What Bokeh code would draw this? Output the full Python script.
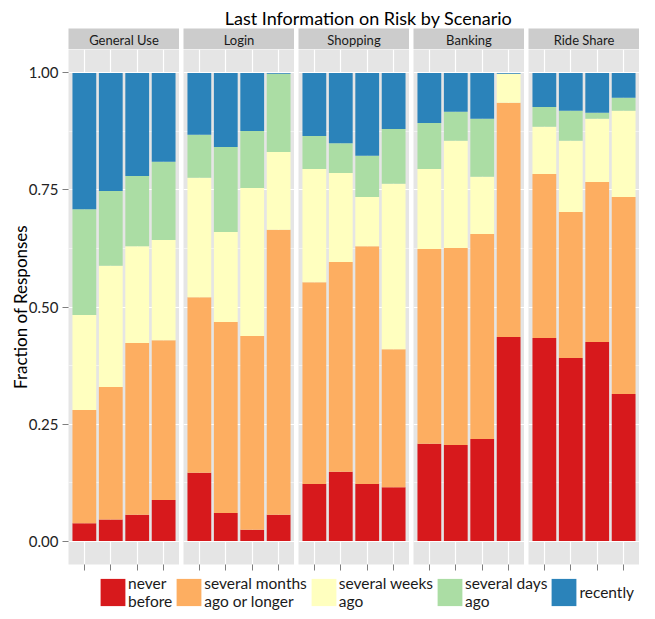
from bokeh.plotting import figure
from bokeh.models import (ColumnDataSource, FactorRange, Range1d, FixedTicker,
                          NumeralTickFormatter, Legend, LegendItem, Label)
from bokeh.layouts import row, column
from bokeh.core.properties import value
from bokeh.embed import file_html
from bokeh.resources import INLINE

# ---------------- data ----------------
chart_title = "Last Information on Risk by Scenario"
y_label = "Fraction of Responses"
scenarios = ["General Use", "Login", "Shopping", "Banking", "Ride Share"]
groups = ["1", "2", "3", "4"]
categories = ["never before", "several months ago or longer", "several weeks ago",
              "several days ago", "recently"]
legend_labels = ["never\nbefore", "several months\nago or longer", "several weeks\nago",
                 "several days\nago", "recently"]
colors = ["#D7191C", "#FDAE61", "#FFFFBF", "#ABDDA4", "#2B83BA"]
y_ticks = [0.0, 0.25, 0.5, 0.75, 1.0]
y_minor = [0.125, 0.375, 0.625, 0.875]

# fraction per category, one list per scenario (4 bars each)
never_before = [[0.038, 0.046, 0.056, 0.088],
                [0.146, 0.060, 0.024, 0.056],
                [0.122, 0.148, 0.122, 0.115],
                [0.208, 0.205, 0.218, 0.436],
                [0.434, 0.391, 0.425, 0.314]]
months_ago = [[0.242, 0.283, 0.367, 0.341],
              [0.375, 0.408, 0.414, 0.609],
              [0.431, 0.448, 0.508, 0.295],
              [0.416, 0.421, 0.438, 0.500],
              [0.350, 0.312, 0.342, 0.421]]
weeks_ago = [[0.203, 0.259, 0.207, 0.214],
             [0.255, 0.192, 0.316, 0.166],
             [0.242, 0.190, 0.105, 0.353],
             [0.171, 0.229, 0.122, 0.062],
             [0.101, 0.152, 0.135, 0.184]]
days_ago = [[0.226, 0.160, 0.150, 0.167],
            [0.092, 0.182, 0.122, 0.167],
            [0.070, 0.064, 0.088, 0.117],
            [0.098, 0.062, 0.124, 0.000],
            [0.042, 0.064, 0.013, 0.028]]
recently = [[0.291, 0.252, 0.220, 0.190],
            [0.132, 0.158, 0.124, 0.002],
            [0.135, 0.150, 0.177, 0.120],
            [0.107, 0.083, 0.098, 0.002],
            [0.073, 0.081, 0.085, 0.053]]
series = [never_before, months_ago, weeks_ago, days_ago, recently]

# ---------------- style ----------------
FONT = "Lato"
PANEL_BG = "#E5E5E5"
STRIP_BG = "#CCCCCC"
TICK_COL = "#7F7F7F"
TEXT_COL = "#1A1A1A"
LEFT0 = 68
GAP = 4
FRAME_W = 111
TOTAL_W = LEFT0 + FRAME_W + 4 * (GAP + FRAME_W)


def blank(p):
    p.outline_line_color = None
    p.border_fill_color = "white"
    for g in p.xgrid + p.ygrid:
        g.grid_line_color = None


def source_for(i):
    data = {"group": groups}
    for cat, ser in zip(categories, series):
        data[cat] = ser[i]
    return ColumnDataSource(data)


# title
tf = figure(width=TOTAL_W, height=28, x_range=Range1d(0, 1), y_range=Range1d(0, 28),
            output_backend="svg", toolbar_location=None, x_axis_location=None,
            y_axis_location=None, min_border_left=58, min_border_right=0,
            min_border_top=0, min_border_bottom=0)
blank(tf)
tf.background_fill_color = None
tf.add_layout(Label(x=0.5, y=11, text=chart_title, text_align="center",
                    text_baseline="alphabetic", text_font=FONT,
                    text_font_size="18px", text_color="black"))

cols = []
for i, name in enumerate(scenarios):
    left = LEFT0 if i == 0 else GAP
    w = left + FRAME_W

    # strip
    s = figure(width=w, height=21, x_range=Range1d(0, 1), y_range=Range1d(0, 1),
               output_backend="svg", toolbar_location=None, x_axis_location=None,
               y_axis_location=None, min_border_left=left, min_border_right=0,
               min_border_top=0, min_border_bottom=0)
    blank(s)
    s.background_fill_color = STRIP_BG
    s.text(x=[0.5], y=[0.45], text=[name], text_align="center", text_baseline="middle",
           text_font=value(FONT), text_font_size="13px", text_color=TEXT_COL)

    # panel
    p = figure(width=w, height=525,
               x_range=FactorRange(factors=groups, range_padding=0.1,
                                   range_padding_units="absolute"),
               y_range=Range1d(-0.05, 1.05),
               output_backend="svg", toolbar_location=None,
               y_axis_location="left" if i == 0 else None,
               min_border_left=left, min_border_right=0, min_border_top=0,
               min_border_bottom=10)
    p.outline_line_color = None
    p.background_fill_color = PANEL_BG
    p.border_fill_color = "white"

    p.vbar_stack(categories, x="group", width=0.9, color=colors, line_color=None,
                 source=source_for(i))

    p.xgrid.grid_line_color = "white"
    p.xgrid.grid_line_width = 1.2
    p.ygrid.ticker = FixedTicker(ticks=y_ticks, minor_ticks=y_minor)
    p.ygrid.grid_line_color = "white"
    p.ygrid.grid_line_width = 1.2
    p.ygrid.minor_grid_line_color = "white"
    p.ygrid.minor_grid_line_width = 0.5

    p.xaxis.axis_line_color = None
    p.xaxis.major_tick_line_color = TICK_COL
    p.xaxis.major_tick_out = 6
    p.xaxis.major_tick_in = 0
    p.xaxis.major_label_text_color = None
    p.xaxis.major_label_text_font_size = "1px"
    p.xaxis.major_label_standoff = 0

    if i == 0:
        ax = p.yaxis[0]
        ax.ticker = FixedTicker(ticks=y_ticks, minor_ticks=y_minor)
        ax.formatter = NumeralTickFormatter(format="0.00")
        ax.axis_line_color = None
        ax.major_tick_line_color = TICK_COL
        ax.major_tick_out = 6
        ax.major_tick_in = 0
        ax.minor_tick_out = 0
        ax.minor_tick_in = 0
        ax.major_label_standoff = 4
        ax.major_label_text_font = FONT
        ax.major_label_text_font_size = "15px"
        ax.major_label_text_color = "#222222"
        ax.axis_label = y_label
        ax.axis_label_text_font = FONT
        ax.axis_label_text_font_size = "17px"
        ax.axis_label_text_font_style = "normal"
        ax.axis_label_text_color = "black"
        ax.axis_label_standoff = -5

    cols.append(column(s, p))

# legend (hidden copies of the stacked bars only provide the legend keys)
lf = figure(width=TOTAL_W, height=36,
            x_range=FactorRange(factors=groups), y_range=Range1d(0, 1),
            output_backend="svg", toolbar_location=None, x_axis_location=None,
            y_axis_location=None, min_border_left=97, min_border_right=0,
            min_border_top=0, min_border_bottom=0)
blank(lf)
lf.background_fill_color = None
rends = lf.vbar_stack(categories, x="group", width=0.9, color=colors, line_color=None,
                      source=source_for(0))
for r in rends:
    r.visible = False
legend = Legend(items=[LegendItem(label=lab, renderers=[r])
                       for lab, r in zip(legend_labels, rends)],
                orientation="horizontal", location="top_left",
                glyph_width=31, glyph_height=34, label_standoff=0, spacing=1,
                padding=0, margin=0, border_line_color=None,
                background_fill_alpha=0, inactive_fill_alpha=0,
                label_text_font=FONT,
                label_text_font_size="15.5px", label_text_line_height=1.0,
                label_text_color=TEXT_COL)
lf.add_layout(legend, "center")

page = column(tf, row(*cols), lf)

open("out.html", "w").write(file_html(page, INLINE))
